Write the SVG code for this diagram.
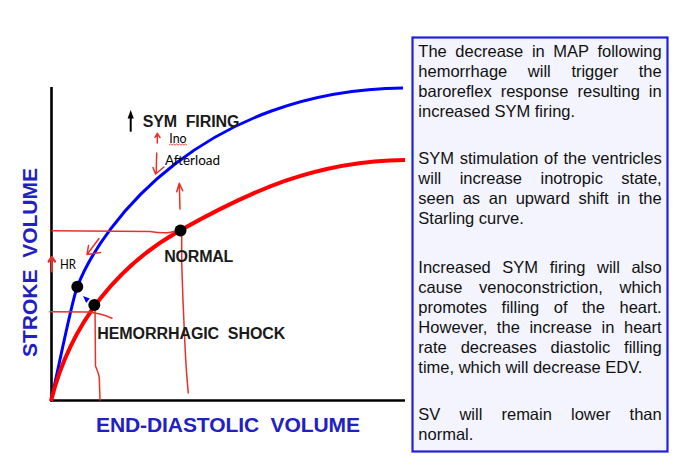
<svg xmlns="http://www.w3.org/2000/svg" width="684" height="470" viewBox="0 0 684 470">
<style>
.ax{stroke:#000;stroke-width:2.6;fill:none}
.cb{stroke:#0000ff;stroke-width:3;fill:none}
.cr{stroke:#ff0000;stroke-width:4;fill:none}
.hand{stroke:#e8302a;stroke-width:1.5;fill:none;stroke-linecap:round;stroke-linejoin:round}
.dot{fill:#000}
.bold{font-family:"Liberation Sans",Arial,sans-serif;font-weight:bold;fill:#1a1a1a;white-space:pre;font-size:16px}
.axl{font-family:"Liberation Sans",Arial,sans-serif;font-weight:bold;fill:#2020c4;font-size:21px;white-space:pre}
.hw{font-family:Lato,"Open Sans",sans-serif;font-size:12.5px;fill:#000}
.box{fill:#f3f4fd;stroke:#2020d8;stroke-width:2.2}
.bt{font-family:"Liberation Sans",Arial,sans-serif;font-size:16.5px;fill:#111}
</style>
<rect width="684" height="470" fill="#fff"/>

<g id="axes">
<line class="ax" x1="51.5" y1="87" x2="51.5" y2="401.5"/>
<line class="ax" x1="50.2" y1="400.5" x2="405" y2="400.5"/>
<text class="axl" transform="translate(36.5,262.5) rotate(-90)" text-anchor="middle" textLength="189" lengthAdjust="spacing">STROKE  VOLUME</text>
<text class="axl" x="96" y="432" textLength="264" lengthAdjust="spacing">END-DIASTOLIC  VOLUME</text>
</g>

<g id="curve-sym">
<path class="cb" d="M51,401 C57,375 72,300 77.3,286.8 C102.3,221.8 205,90 403,88"/>
</g>
<g id="curve-normal">
<path class="cr" d="M51,401 C71,321 120,264.1 180,230.5 C250,191.3 315,161 405,160"/>
</g>

<g id="connectors">
<path class="hand" d="M52,230.7 L150,231.5 C156,232.5 161,233.2 167,232.7 C171,232.2 174,231.3 178,231"/>
<path class="hand" d="M181.7,231 L181.7,262 C182.5,290 183.3,310 184.5,335 C185.5,360 187,380 188.3,393"/>
<path class="hand" d="M50,311.7 L87,312 C97,312.5 105,315 112,318.3"/>
<path class="hand" d="M95,306 L95.5,366 C97,370 99,374 99.3,378 L100,400"/>
<path class="hand" d="M157.3,143 L157.3,133.5 M155,137.5 L157.3,133.3 L160,137.5"/>
<path class="hand" d="M156.7,153 L156.2,173 M153,167.5 L155.5,174 L164,167"/>
<path class="hand" d="M180,209 L179.3,184 M176.7,191.7 L179.3,183.3 L182.7,190.7"/>
<path class="hand" d="M99,238.5 L87,254.5 M88.5,245.5 L87,254.5 L100.5,252.5"/>
<path class="hand" style="stroke-width:2.2" d="M51.8,271.5 L51.8,257.5 M48.6,261.5 L51.8,257 L55,261.5"/>
<path stroke="#e8302a" stroke-width="0.9" fill="none" d="M169,145.2 l1.5,-1.2 l1.5,1.2 l1.5,-1.2 l1.5,1.2 l1.5,-1.2 l1.5,1.2 l1.5,-1.2 l1.5,1.2 l1.5,-1.2 l1.5,1.2 l1.5,-1.2 l1.5,1.2"/>
<polygon fill="#0000ff" points="83,296 89.8,298.6 86.2,303"/>
<line x1="130.7" y1="117" x2="130.7" y2="131.7" stroke="#000" stroke-width="2"/>
<polygon fill="#000" points="130.7,110 127.6,118.5 133.8,118.5"/>
</g>

<g id="node-normal">
<circle class="dot" cx="180.5" cy="230.5" r="6"/>
<text class="bold" x="164.3" y="261.7" textLength="69" lengthAdjust="spacing">NORMAL</text>
</g>
<g id="node-hr">
<circle class="dot" cx="77.3" cy="286.8" r="6"/>
</g>
<g id="node-shock">
<circle class="dot" cx="94.3" cy="305" r="6"/>
<text class="bold" x="97.3" y="339.3" textLength="188" lengthAdjust="spacing">HEMORRHAGIC  SHOCK</text>
</g>
<g id="labels">
<text class="bold" x="142.7" y="126.7" textLength="96.7" lengthAdjust="spacing">SYM  FIRING</text>
<text class="hw" x="169.3" y="143.3" textLength="17.3" lengthAdjust="spacingAndGlyphs">Ino</text>
<text class="hw" x="165" y="165" textLength="55" lengthAdjust="spacingAndGlyphs">Afterload</text>
<text class="hw" x="60" y="269.3" textLength="16" lengthAdjust="spacingAndGlyphs">HR</text>
</g>

<g id="textbox">
<rect class="box" x="412.5" y="37.5" width="255" height="414"/>
<text class="bt">
<tspan x="418.3" y="57.3" style="word-spacing:3.99px" textLength="243.4" lengthAdjust="spacing">The decrease in MAP following</tspan>
<tspan x="418.3" y="77.3" style="word-spacing:16.05px" textLength="243.4" lengthAdjust="spacing">hemorrhage will trigger the</tspan>
<tspan x="418.3" y="97.3" style="word-spacing:4.41px" textLength="243.4" lengthAdjust="spacing">baroreflex response resulting in</tspan>
<tspan x="418.3" y="117.3" style="word-spacing:0">increased SYM firing.</tspan>
<tspan x="418.3" y="164" style="word-spacing:1.01px" textLength="243.4" lengthAdjust="spacing">SYM stimulation of the ventricles</tspan>
<tspan x="418.3" y="184" style="word-spacing:13.88px" textLength="243.4" lengthAdjust="spacing">will increase inotropic state,</tspan>
<tspan x="418.3" y="204" style="word-spacing:4.03px" textLength="243.4" lengthAdjust="spacing">seen as an upward shift in the</tspan>
<tspan x="418.3" y="224" style="word-spacing:0">Starling curve.</tspan>
<tspan x="418.3" y="272.7" style="word-spacing:6.98px" textLength="243.4" lengthAdjust="spacing">Increased SYM firing will also</tspan>
<tspan x="418.3" y="292.7" style="word-spacing:12.11px" textLength="243.4" lengthAdjust="spacing">cause venoconstriction, which</tspan>
<tspan x="418.3" y="312.7" style="word-spacing:9.96px" textLength="243.4" lengthAdjust="spacing">promotes filling of the heart.</tspan>
<tspan x="418.3" y="332.7" style="word-spacing:4.91px" textLength="243.4" lengthAdjust="spacing">However, the increase in heart</tspan>
<tspan x="418.3" y="352.7" style="word-spacing:9.31px" textLength="243.4" lengthAdjust="spacing">rate decreases diastolic filling</tspan>
<tspan x="418.3" y="372.7" style="word-spacing:0">time, which will decrease EDV.</tspan>
<tspan x="418.3" y="420" style="word-spacing:14.54px" textLength="243.4" lengthAdjust="spacing">SV will remain lower than</tspan>
<tspan x="418.3" y="440" style="word-spacing:0">normal.</tspan>
</text>
</g>
</svg>
